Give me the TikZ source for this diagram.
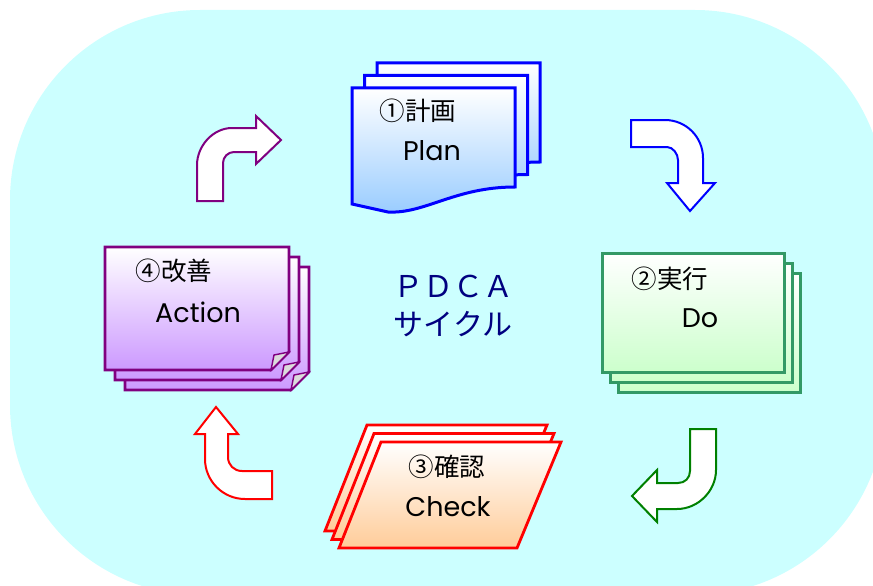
\documentclass[tikz,border=0pt]{standalone}
\usepackage{fontspec}
\newfontfamily\jpfont{Noto Sans CJK JP}
\newfontfamily\latfont{Poppins}
\definecolor{bgcyan}{HTML}{CCFFFF}
\definecolor{planblue}{HTML}{0000FF}
\definecolor{planfill}{HTML}{99CCFF}
\definecolor{actpurple}{HTML}{800080}
\definecolor{actfill}{HTML}{CC99FF}
\definecolor{dogreen}{HTML}{339966}
\definecolor{dofill}{HTML}{CCFFCC}
\definecolor{arrgreen}{HTML}{008000}
\definecolor{chkred}{HTML}{FF0000}
\definecolor{chkfill}{HTML}{FFCC99}
\definecolor{titlenavy}{HTML}{000080}
\begin{document}
\begin{tikzpicture}[
                        x=1pt, y=-1pt,
                        planbox/.style={draw=planblue, line width=3pt, top color=white, bottom color=planfill},
                        dobox/.style={draw=dogreen, line width=3pt, top color=white, bottom color=dofill},
                        chkbox/.style={draw=chkred, line width=2.8pt, top color=white, bottom color=chkfill},
                        actbox/.style={draw=actpurple, line width=2.8pt, top color=white, bottom color=actfill},
                        flap/.style={draw=actpurple, line width=1.4pt, fill=black!14},
                        bent/.style={fill=white, line width=2pt, line join=miter},
                        jptext/.style={inner sep=0pt, font=\jpfont\fontsize{25.5}{30}\selectfont},
                        entext/.style={inner sep=0pt, font=\latfont\fontsize{27}{32}\selectfont},
                        title/.style={inner sep=0pt, text=titlenavy, font=\jpfont\fontsize{30}{34}\selectfont}
                    ]
                    \useasboundingbox (0,0) rectangle (873,586);
                    % Background
                    \fill [bgcyan, rounded corners=190pt] (10,10) rectangle (885,595);

                    % Plan
                    \draw [planbox, shift={(25,-25)}] (352,88) -- (515,88) -- (515,187) .. controls (455,187) and (425,214) .. (388,212) -- (352,204) -- cycle;
                    \draw [planbox, shift={(12.5,-12.5)}] (352,88) -- (515,88) -- (515,187) .. controls (455,187) and (425,214) .. (388,212) -- (352,204) -- cycle;
                    \draw [planbox] (352,88) -- (515,88) -- (515,187) .. controls (455,187) and (425,214) .. (388,212) -- (352,204) -- cycle;

                    % Do
                    \draw [dobox, shift={(16,20)}] (602,253) rectangle (784,372);
                    \draw [dobox, shift={(8,10)}] (602,253) rectangle (784,372);
                    \draw [dobox] (602,253) rectangle (784,372);

                    % Check
                    \draw [chkbox, shift={(-14,-17)}] (381,442) -- (561,442) -- (517,548) -- (339,548) -- cycle;
                    \draw [chkbox, shift={(-7,-8.5)}] (381,442) -- (561,442) -- (517,548) -- (339,548) -- cycle;
                    \draw [chkbox] (381,442) -- (561,442) -- (517,548) -- (339,548) -- cycle;

                    % Action
                    \draw [actbox, shift={(20,20)}] (105,247) -- (289,247) -- (289,352) -- (271,370) -- (105,370) -- cycle;
                    \draw [flap, shift={(20,20)}] (289,352) -- (271,370) -- (274,355) -- cycle;
                    \draw [actbox, shift={(10,10)}] (105,247) -- (289,247) -- (289,352) -- (271,370) -- (105,370) -- cycle;
                    \draw [flap, shift={(10,10)}] (289,352) -- (271,370) -- (274,355) -- cycle;
                    \draw [actbox] (105,247) -- (289,247) -- (289,352) -- (271,370) -- (105,370) -- cycle;
                    \draw [flap] (289,352) -- (271,370) -- (274,355) -- cycle;

                    % Bent arrows
                    \draw [bent, draw=actpurple] (197,201) -- (197,165) .. controls (197,146) and (213,128) .. (232,128) -- (256,128) -- (256,116) -- (281,140) -- (256,164) -- (256,152) -- (234,152) .. controls (228,152) and (223,157) .. (223,163) -- (223,201) -- cycle;
                    \draw [bent, draw=planblue] (631,120) -- (665,120) .. controls (686,120) and (703,137) .. (703,158) -- (703,183) -- (715,183) -- (690,211) -- (667,183) -- (678,183) -- (678,160) .. controls (678,154) and (673,147) .. (667,147) -- (631,147) -- cycle;
                    \draw [bent, draw=arrgreen] (690,429) -- (716,429) -- (716,470) .. controls (716,491) and (698,509) .. (677,509) -- (657,509) -- (657,522) -- (632,496) -- (657,470) -- (657,483) -- (678,483) .. controls (685,483) and (690,478) .. (690,471) -- cycle;
                    \draw [bent, draw=chkred] (272,499) -- (245,499) .. controls (223,499) and (205,481) .. (205,459) -- (205,434) -- (195,434) -- (216,407) -- (238,434) -- (228,434) -- (228,457) .. controls (228,465) and (234,471) .. (242,471) -- (272,471) -- cycle;

                    % Labels
                    \node [jptext] (plannum) at (418,111) {①計画};
                    \node [entext] (planword) at (432,151) {Plan};
                    \node [jptext] (donum) at (670,279) {②実行};
                    \node [entext] (doword) at (700,318) {Do};
                    \node [jptext] (chknum) at (447,467) {③確認};
                    \node [entext] (chkword) at (448,507) {Check};
                    \node [jptext] (actnum) at (174,271) {④改善};
                    \node [entext] (actword) at (198,312) {Action};
                    \node [title] (pdca) at (453,286) {ＰＤＣＡ};
                    \node [title] (cycle) at (453,324) {サイクル};
                \end{tikzpicture}
\end{document}
